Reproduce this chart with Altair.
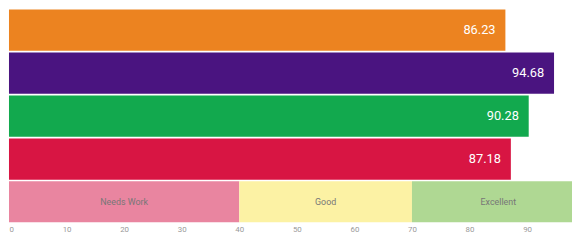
import altair as alt
import pandas as pd

categories = ["A", "B", "C", "D"]
values = [86.23, 94.68, 90.28, 87.18]
bar_colors = ["#EC8320", "#4A1480", "#12A94E", "#D81543"]

band_labels = ["Needs Work", "Good", "Excellent"]
band_start = [0, 40, 70]
band_end = [40, 70, 100]
band_colors = ["#E985A0", "#FCF2A4", "#AFD893"]

tick_values = [0, 10, 20, 30, 40, 50, 60, 70, 80, 90, 100]

rows = categories + ["range"]

bars_df = pd.DataFrame({"cat": categories, "value": values, "color": bar_colors,
                        "label": [f"{v:.2f}" for v in values]})
bands_df = pd.DataFrame({"cat": ["range"] * 3, "start": band_start, "end": band_end,
                         "label": band_labels, "color": band_colors})
bands_df["mid"] = (bands_df["start"] + bands_df["end"]) / 2

# the visible window ends just short of 100, as in the reference (100 label cut at the edge)
xscale = alt.Scale(domain=[0, 97.8], nice=False, zero=True)
yscale = alt.Scale(domain=rows, paddingInner=0.04, paddingOuter=0)

bands = alt.Chart(bands_df).mark_rect(clip=True).encode(
    x=alt.X("start:Q", scale=xscale,
            axis=alt.Axis(title=None, values=tick_values, grid=False,
                          domain=False, ticks=False, labelFontSize=8,
                          labelColor="#999999", labelPadding=3, labelFont="Roboto")),
    x2="end:Q",
    y=alt.Y("cat:N", scale=yscale, axis=None),
    color=alt.Color("color:N", scale=None),
)

band_text = alt.Chart(bands_df).mark_text(fontSize=9, color="#777777", font="Roboto").encode(
    x=alt.X("mid:Q", scale=xscale),
    y=alt.Y("cat:N", scale=yscale),
    text="label:N",
)

bars = alt.Chart(bars_df).mark_bar().encode(
    x=alt.X("value:Q", scale=xscale),
    y=alt.Y("cat:N", scale=yscale),
    color=alt.Color("color:N", scale=None),
)

bar_text = alt.Chart(bars_df).mark_text(align="right", dx=-10, fontSize=13,
                                        color="white", font="Roboto").encode(
    x=alt.X("value:Q", scale=xscale),
    y=alt.Y("cat:N", scale=yscale),
    text="label:N",
)

chart = alt.layer(bands, band_text, bars, bar_text).properties(
    width=571, height=216,
    autosize=alt.AutoSizeParams(type="none"),
    padding={"left": 1, "right": 0, "top": 0, "bottom": 12},
).configure_view(stroke=None)

chart.save("out.html", embed_options={"renderer": "svg", "actions": False})
